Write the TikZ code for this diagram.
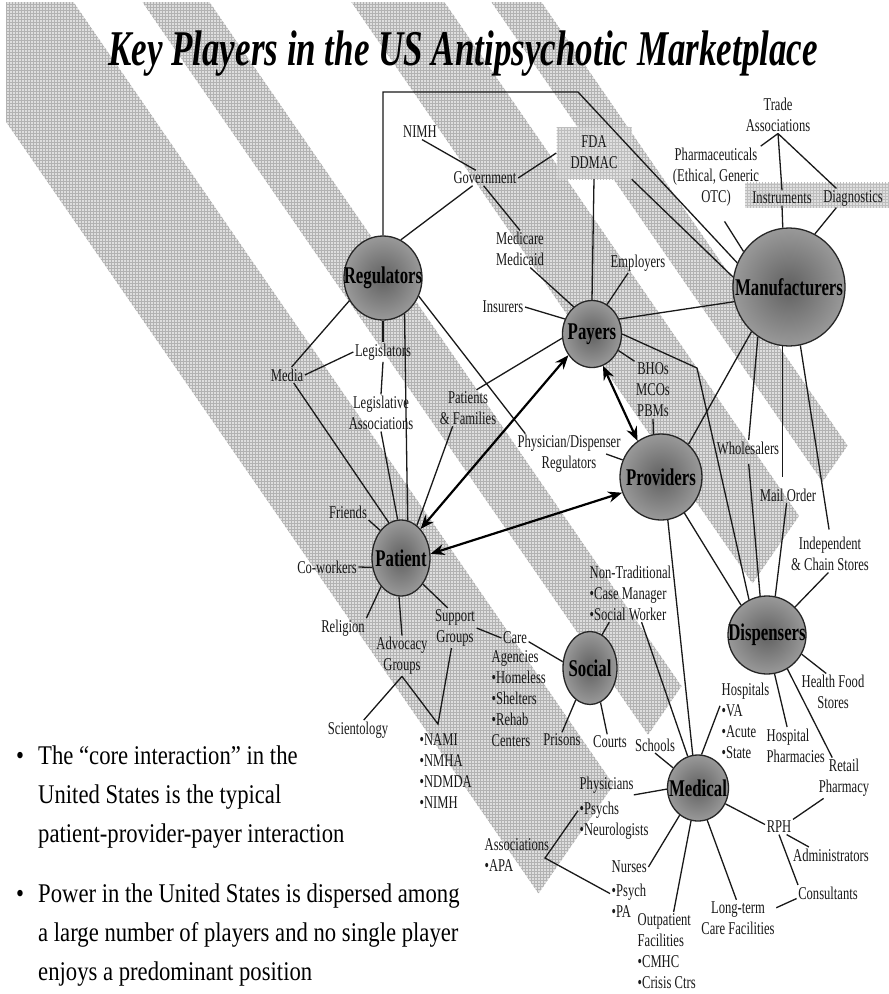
\documentclass[tikz,border=0pt]{standalone}
\usepackage{fontspec}
\setmainfont{Liberation Serif}
\newfontfamily\nf[FakeStretch=0.7]{Liberation Serif}
\newfontfamily\blf[FakeStretch=0.84]{Liberation Serif}
\usetikzlibrary{shapes.geometric,arrows.meta,patterns}
% stripe between edges x-0.69y=#1 and =#2, ends x+0.69y=#3 and =#4
\newcommand{\mystripe}[4]{%
  \path[stripefill] ({(#1+#3)/2},{0.7246*(#3-#1)}) -- ({(#2+#3)/2},{0.7246*(#3-#2)}) -- ({(#2+#4)/2},{0.7246*(#4-#2)}) -- ({(#1+#4)/2},{0.7246*(#4-#1)}) -- cycle;}
\begin{document}
\begin{tikzpicture}[x=1pt,y=-1pt,
  stripefill/.style={fill=black!13, postaction={pattern=grid, pattern color=black!30}},
  boxfill/.style={fill=black!12, postaction={pattern=grid, pattern color=black!26}},
  lbl/.style={font=\nf\fontsize{18}{21}\selectfont, inner sep=1.5pt, align=center, text=black!90},
  lbll/.style={lbl, align=left, anchor=north west},
  player/.style={ellipse, draw=black!85, line width=1.3pt, inner sep=0pt, shading=radial, inner color=black!62, outer color=black!40},
  plabel/.style={font=\nf\bfseries\fontsize{24}{26}\selectfont, inner sep=0pt, text=black},
  conn/.style={draw=black!90, line width=1.3pt},
  dbl/.style={draw=black, line width=2.2pt, arrows={Stealth[length=14pt,width=11pt]-Stealth[length=14pt,width=11pt]}},
  bt/.style={font=\blf\fontsize{27}{39}\selectfont, inner sep=0pt, align=left, text=black}]
\useasboundingbox (0,0) rectangle (889,994);
\fill[white] (0,0) rectangle (889,994);
% background stripes
\begin{scope}
\clip (6,2) rectangle (889,994);
\mystripe{-78}{72}{-400}{1155}
\mystripe{141}{208}{-400}{1155}
\mystripe{350}{443}{-400}{1155}
\mystripe{490}{540}{-400}{1155}
\end{scope}
% title
\node[anchor=base, inner sep=0pt, font=\nf\bfseries\itshape\fontsize{50}{55}\selectfont] (title) at (463,65) {Key Players in the US Antipsychotic Marketplace};
% gray boxes
\node[boxfill, minimum width=75pt, minimum height=52pt, inner sep=0pt] (fda) at (594,153) {};
\node[lbl] (fdat) at (594,152) {FDA\\DDMAC};
\node[boxfill, minimum width=144pt, minimum height=25pt, inner sep=0pt] (idbox) at (817,195) {};
% players
\node[player, minimum width=78pt, minimum height=84pt, label={[plabel]center:Regulators}] (reg) at (383,278) {};
\node[player, minimum width=59pt, minimum height=67pt, label={[plabel]center:Payers}] (pay) at (592,334) {};
\node[player, minimum width=82pt, minimum height=86pt, label={[plabel]center:Providers}] (pro) at (661,477) {};
\node[player, minimum width=112pt, minimum height=118pt, label={[plabel]center:Manufacturers}] (man) at (789,287) {};
\node[player, minimum width=58pt, minimum height=76pt, label={[plabel]center:Patient}] (pat) at (401,558) {};
\node[player, minimum width=54pt, minimum height=73pt, label={[plabel]center:Social}] (soc) at (590,668) {};
\node[player, minimum width=78pt, minimum height=78pt, label={[plabel]center:Dispensers}] (dis) at (767,635) {};
\node[player, minimum width=61pt, minimum height=66pt, label={[plabel]center:Medical}] (med) at (698,788) {};
% labels
\node[lbl] (nimh) at (420,132) {NIMH};
\node[lbl] (gov) at (485,178) {Government};
\node[lbl] (mcare) at (520,249) {Medicare\\Medicaid};
\node[lbl] (emp) at (638,263) {Employers};
\node[lbl] (ins) at (503,307) {Insurers};
\node[lbl] (trade) at (778,115) {Trade\\Associations};
\node[lbl] (pharma) at (716,177) {Pharmaceuticals\\(Ethical, Generic\\OTC)};
\node[lbl] (instr) at (782,198) {Instruments};
\node[lbl] (diag) at (853,198) {Diagnostics};
\node[lbl] (media) at (287,375) {Media};
\node[lbl] (legis) at (383,352) {Legislators};
\node[lbl] (lassoc) at (381,413) {Legislative\\Associations};
\node[lbl] (pf) at (468,408) {Patients\\\& Families};
\node[lbl] (phys) at (569,454) {Physician/Dispenser\\Regulators};
\node[lbl] (bho) at (653,390) {BHOs\\MCOs\\PBMs};
\node[lbl] (whole) at (748,448) {Wholesalers};
\node[lbl] (mail) at (788,495) {Mail Order};
\node[lbl] (indep) at (830,554) {Independent\\\& Chain Stores};
\node[lbl] (fr) at (348,512) {Friends};
\node[lbl] (cw) at (327,567) {Co-workers};
\node[lbl] (relg) at (343,628) {Religion};
\node[lbl] (adv) at (402,656) {Advocacy\\Groups};
\node[lbl] (sup) at (455,628) {Support\\Groups};
\node[lbl] (careh) at (515,638) {Care};
\node[lbll] (carel) at (490,649) {Agencies\\•Homeless\\•Shelters\\•Rehab\\Centers};
\node[lbll] (sw) at (588,564) {Non-Traditional\\•Case Manager\\•Social Worker};
\node[lbl] (pris) at (562,740) {Prisons};
\node[lbl] (court) at (610,742) {Courts};
\node[lbl] (school) at (655,745) {Schools};
\node[lbll] (hosp) at (720,681) {Hospitals\\•VA\\•Acute\\•State};
\node[lbl] (hf) at (833,692) {Health Food\\Stores};
\node[lbll] (hp) at (765,727) {Hospital\\Pharmacies};
\node[lbl] (ret) at (844,778) {Retail\\Pharmacy};
\node[lbl] (rph) at (779,827) {RPH};
\node[lbl] (admin) at (831,855) {Administrators};
\node[lbl] (consul) at (828,893) {Consultants};
\node[lbl] (lt) at (738,918) {Long-term\\Care Facilities};
\node[lbll] (outp) at (636,912) {Outpatient\\Facilities\\•CMHC\\•Crisis Ctrs};
\node[lbl, anchor=west] (physh) at (578,785) {Physicians};
\node[lbll] (psy) at (578,800) {•Psychs\\•Neurologists};
\node[lbll] (assoc) at (483,837) {Associations\\•APA};
\node[lbl, anchor=west] (nurh) at (610,867) {Nurses};
\node[lbll] (nurl) at (610,882) {•Psych\\•PA};
\node[lbl] (sci) at (358,730) {Scientology};
\node[lbll] (nami) at (418,732) {•NAMI\\•NMHA\\•NDMDA\\•NIMH};
% junction coordinates
\coordinate (tr) at (578,92);
\coordinate (bend1) at (697,368);
\coordinate (v1) at (545,858);
\coordinate (v2) at (438,724);
% connectors
\draw[conn] (reg.north) |- (tr) -- (man.155);
\draw[conn] (nimh.-75) -- (gov.140);
\draw[conn] (fda.west) -- (gov.east);
\draw[conn] (gov.212) -- (reg.65);
\draw[conn] (gov.-100) -- (mcare.north);
\draw[conn] (mcare.-61) -- (pay.124);
\draw[conn] (fda.south) -- (pay.north);
\draw[conn] (fda.south east) -- (man.170);
\draw[conn] (emp.-135) -- (pay.63);
\draw[conn] (ins.east) -- (pay.151);
\draw[conn] (pay.29) -- (man.195);
\draw[conn] (trade.south) -- (pharma.north east);
\draw[conn] (trade.south) -- (instr.north);
\draw[conn] (trade.south) -- (diag.150);
\draw[conn, shorten <=16pt] (pharma.south) -- (man.142);
\draw[conn] (instr.south) -- (man.96);
\draw[conn] (diag.-150) -- (man.64);
\draw[conn] (reg.214) -- (media.60);
\draw[conn] (media.east) -- (legis.west);
\draw[conn] (reg.south) -- (legis.north);
\draw[conn] (legis.south) -- (lassoc.north);
\draw[conn] (media.-50) -- (pat.109);
\draw[conn] (lassoc.south) -- (pat.95);
\draw[conn] (reg.-59) -- (pat.80);
\draw[conn] (reg.-27) -- (phys.155);
\draw[conn] ([xshift=-16pt]phys.east) -- (pro.156);
\draw[conn] (pay.188) -- (pf.65);
\draw[conn] (pf.-130) -- (pat.64);
\draw[conn] (pay.-32) -- (bho.north west);
\draw[conn] (bho.south) -- (pro.100);
\draw[conn] (pay.0) -- (bend1) -- (dis.117);
\draw[conn] (man.230) -- (pro.50);
\draw[conn] (man.238) -- (whole.85);
\draw[conn, shorten >=10pt] (man.264) -- (man.264 |- mail.north);
\draw[conn, shorten >=6pt] (man.281) -- (indep.north);
\draw[conn] (indep.-95) -- (dis.45);
\draw[conn, shorten <=8pt] (whole.south) -- (dis.100);
\draw[conn] (mail.-100) -- (dis.78);
\draw[conn] (pro.-57) -- (dis.131);
\draw[conn] (pro.-81) -- (med.99);
\draw[conn] (sw.-69) -- (med.108);
\draw[conn] (hosp.150) -- (med.84);
\draw[conn] (sw.-126) -- (soc.70);
\draw[conn] (careh.-15) -- (soc.167);
\draw[conn] (sup.east) -- (careh.west);
\draw[conn] (soc.246) -- (pris.north);
\draw[conn] (soc.-73) -- (court.110);
\draw[conn] (school.south) -- (med.141);
\draw[conn] (physh.-20) -- (med.182);
\draw[conn] (psy.165) -- (v1) -- (nurl.160);
\draw[conn] (nurh.east) -- (med.236);
\draw[conn] (outp.80) -- (med.258);
\draw[conn] (lt.95) -- (med.-74);
\draw[conn] (med.-30) -- (rph.170);
\draw[conn] (ret.-135) -- (rph.north east);
\draw[conn] (rph.-45) -- (admin.160);
\draw[conn] (rph.south) -- (consul.165);
\draw[conn] (consul.190) -- (lt.15);
\draw[conn] (dis.-29) -- (hf.110);
\draw[conn] (dis.-79) -- (hp.115);
\draw[conn] (dis.-59) -- (ret.120);
\draw[conn] (pat.-93) -- (adv.north);
\draw[conn] (fr.south east) -- (pat.127);
\draw[conn] (cw.east) -- (pat.198);
\draw[conn] (relg.north east) -- (pat.235);
\draw[conn] (pat.-50) -- (sup.110);
\draw[conn] (adv.south) -- (sci.60);
\draw[conn] (adv.south) -- (v2) -- (sup.-100);
% core interaction arrows
\draw[dbl] (pat.56) -- (pay.222);
\draw[dbl] (pat.8) -- (pro.202);
\draw[dbl] (pay.-71) -- (pro.123);
% bullets
\node[bt, anchor=base] (d1) at (20,764) {•};
\node[bt, anchor=north west] (b1) at (38,746) {The “core interaction” in the\\United States is the typical\\patient-provider-payer interaction};
\node[bt, anchor=base] (d2) at (20,902) {•};
\node[bt, anchor=north west] (b2) at (38,884) {Power in the United States is dispersed among\\a large number of players and no single player\\enjoys a predominant position};
\end{tikzpicture}
\end{document}
